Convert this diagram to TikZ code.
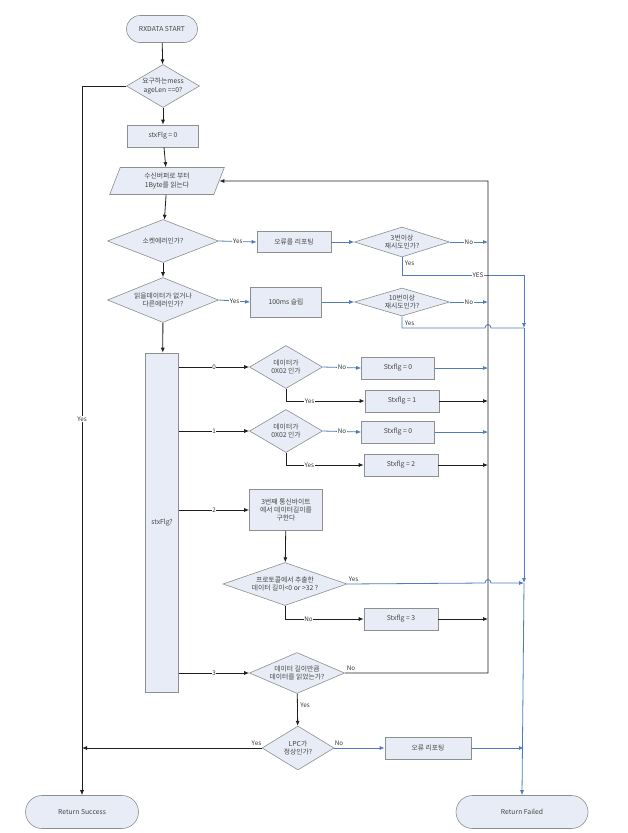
\documentclass[tikz,border=0pt]{standalone}
\usepackage{fontspec}
\setmainfont{Noto Sans CJK KR}
\usetikzlibrary{shapes.geometric,shapes.misc,arrows.meta}
\definecolor{boxfill}{HTML}{E8ECF6}
\definecolor{boxdraw}{HTML}{8E8E8E}
\definecolor{flowblue}{HTML}{4F7BC0}
\definecolor{flowblack}{HTML}{1E1E1E}
\definecolor{txtgray}{HTML}{454545}
\begin{document}
\begin{tikzpicture}[x=1pt,y=-1pt,
  font=\fontsize{6.8}{8.2}\selectfont,
  base/.style={draw=boxdraw, fill=boxfill, text=txtgray, inner sep=1pt, align=center, line width=0.6pt},
  proc/.style={base, rectangle, minimum width=#1, minimum height=22pt},
  proc/.default=73pt,
  term/.style={base, rounded rectangle, minimum width=#1, minimum height=30pt},
  dia/.style={base, diamond, inner sep=0pt},
  lbl/.style={text=txtgray, align=center, inner sep=0pt},
  bl/.style={draw=flowblack, line width=0.8pt},
  bu/.style={draw=flowblue, line width=0.8pt},
  arr/.style={-{Latex[length=5pt,width=4pt]}},
  tag/.style={fill=white, inner sep=0.6pt, text=black!80, font=\fontsize{6.3}{7}\selectfont},
  ntag/.style={inner sep=0.6pt, text=black!80, font=\fontsize{6.3}{7}\selectfont}
]
\useasboundingbox (0,0) rectangle (627,833);

% ---- nodes ----
\node[term=73pt, minimum height=27pt] (start) at (162,29) {RXDATA START};
\node[dia, minimum width=73pt, minimum height=43pt, label={[lbl]center:요구하는mess\\ageLen ==0?}] (d1) at (163,86) {};
\node[proc=71pt] (s0) at (163,136) {stxFlg = 0};
\node[base, trapezium, trapezium left angle=73, trapezium right angle=107, trapezium stretches=true, minimum width=115pt, minimum height=27pt] (rd) at (167,181) {수신버퍼로 부터\\1Byte를 읽는다};
\node[dia, minimum width=111pt, minimum height=43pt, label={[lbl]center:소켓에러인가?}] (d2) at (163,241) {};
\node[proc=74pt, minimum height=21pt] (e1) at (294,242) {오류를 리포팅};
\node[dia, minimum width=95pt, minimum height=30pt, label={[lbl]center:3번이상\\재시도인가?}] (d3) at (402,242) {};
\node[dia, minimum width=111pt, minimum height=45pt, label={[lbl]center:읽을데이터가 없거나\\다른에러인가?}] (d4) at (163,300) {};
\node[proc=71pt, minimum height=30pt] (sl) at (286,302) {100ms 슬립};
\node[dia, minimum width=95pt, minimum height=28pt, label={[lbl]center:10번이상\\재시도인가?}] (d5) at (402,302) {};
\node[base, rectangle, minimum width=33pt, minimum height=339pt] (sw) at (162,522.5) {stxFlg?};
\node[dia, minimum width=73pt, minimum height=43pt, label={[lbl]center:데이터가\\0X02 인가}] (d6) at (286,367) {};
\node[proc=73pt] (b60) at (398,368) {Stxflg = 0};
\node[proc=74pt] (b61) at (402,401) {Stxflg = 1};
\node[dia, minimum width=73pt, minimum height=43pt, label={[lbl]center:데이터가\\0X02 인가}] (d7) at (286,431) {};
\node[proc=73pt] (b70) at (398,432) {Stxflg = 0};
\node[proc=74pt] (b72) at (401,465) {Stxflg = 2};
\node[proc=73pt, minimum height=41pt] (p2) at (286,510) {3번째 통신바이트\\에서 데이터길이를\\구한다};
\node[dia, minimum width=124pt, minimum height=43pt, label={[lbl]center:프로토콜에서 추출한\\데이터 길이<0 or >32 ?}] (d8) at (285,584) {};
\node[proc=74pt] (b83) at (401,619) {Stxflg = 3};
\node[dia, minimum width=95pt, minimum height=41pt, label={[lbl]center:데이터 길이만큼\\데이터를 읽었는가?}] (d9) at (297,673) {};
\node[dia, minimum width=72pt, minimum height=44pt, label={[lbl]center:LPC가\\정상인가?}] (d10) at (298,748) {};
\node[proc=86pt] (e2) at (428,748) {오류 리포팅};
\node[term=115pt, minimum height=33pt] (rs) at (82,812) {Return Success};
\node[term=134pt, minimum height=33pt] (rf) at (522,812) {Return Failed};

% ---- coordinates ----
\coordinate (R) at (488,181);
\coordinate (B) at (524,275);
\coordinate (J1) at (524,328);
\coordinate (J2) at (524,583);
\coordinate (J3) at (524,748);

% ---- main spine (black) ----
\draw[bl,arr] (start) -- (d1);
\draw[bl,arr] (d1) -- (s0);
\draw[bl,arr] (s0) -- (rd);
\draw[bl,arr] (rd) -- (d2);
\draw[bl,arr] (d2) -- (d4);
\draw[bl,arr] (d4) -- (sw);
\draw[bl,arr] (d1.west) -| node[tag,pos=0.735] {Yes} (rs.north);

% ---- error branches (blue) ----
\draw[bu,arr] (d2.east) -- node[tag] {Yes} (e1.west);
\draw[bu,arr] (e1) -- (d3);
\draw[bu,arr] (d3.east) -- node[tag] {No} (d3.east -| R);
\draw[bu,arr] (d3.south) |- (B) -- (J1);
\node[ntag, anchor=west] (y3) at (404,263) {Yes};
\node[tag] (yes3) at (478,275) {YES};
\draw[bu,arr] (d4.east) -- node[tag] {Yes} (sl.west);
\draw[bu,arr] (sl) -- (d5);
\draw[bu,arr] (d5.east) -- node[tag] {No} (d5.east -| R);
\draw[bu] (d5.south) |- (485,328) .. controls (485,323.5) and (491,323.5) .. (491,328) -- (J1);
\node[ntag, anchor=west] (y5) at (404,323) {Yes};
\draw[bu,arr] (J1) -- (J2);
\draw[bu,arr] (J2) -- (rf.north);

% ---- stxFlg = 0 ----
\draw[bl,arr] (d6.west -| sw.east) -- node[tag] {0} (d6.west);
\draw[bu,arr] (d6.east) -- node[tag] {No} (b60.west);
\draw[bu,arr] (b60.east) -- (b60.east -| R);
\draw[bl,arr] (d6.south) |- node[tag,pos=0.65] {Yes} (b61.west);
\draw[bl,arr] (b61.east) -- (b61.east -| R);

% ---- stxFlg = 1 ----
\draw[bl,arr] (d7.west -| sw.east) -- node[tag] {1} (d7.west);
\draw[bu,arr] (d7.east) -- node[tag] {No} (b70.west);
\draw[bu,arr] (b70.east) -- (b70.east -| R);
\draw[bl,arr] (d7.south) |- node[tag,pos=0.65] {Yes} (b72.west);
\draw[bl,arr] (b72.east) -- (b72.east -| R);

% ---- stxFlg = 2 ----
\draw[bl,arr] (p2.west -| sw.east) -- node[tag] {2} (p2.west);
\draw[bl,arr] (p2) -- (d8);
\draw[bu,arr] (d8.east) -- (485,583) .. controls (485,578.5) and (491,578.5) .. (491,583) -- (J2);
\node[ntag, anchor=south west] (y8) at (348,582) {Yes};
\draw[bl,arr] (d8.south) |- node[tag,pos=0.65] {No} (b83.west);
\draw[bl,arr] (b83.east) -- (b83.east -| R);

% ---- stxFlg = 3 ----
\draw[bl,arr] (d9.west -| sw.east) -- node[tag] {3} (d9.west);
\draw[bl,arr] (d9.east) -| (R) -- (rd.east);
\node[ntag, anchor=south west] (n9) at (346,671) {No};
\draw[bl,arr] (d9) -- node[ntag, right=2pt, pos=0.35] {Yes} (d10);
\draw[bl,arr] (d10.west) -- (d10.west -| rs.north);
\node[ntag, anchor=south east] (y10) at (262,746) {Yes};
\draw[bu,arr] (d10.east) -- (e2.west);
\node[ntag, anchor=south west] (n10) at (334,746) {No};
\draw[bu,arr] (e2.east) -- (J3);
\end{tikzpicture}
\end{document}
